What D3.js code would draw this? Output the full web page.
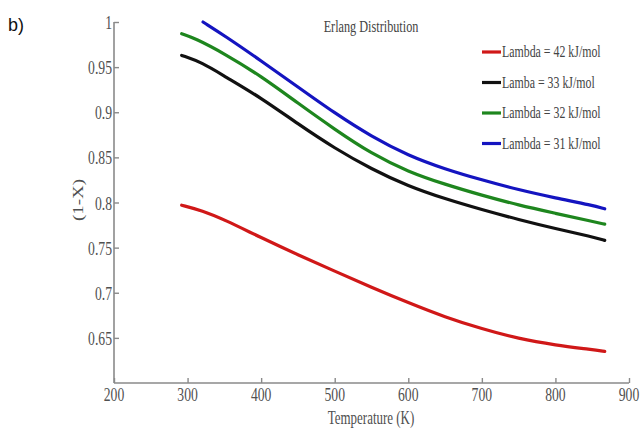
<!DOCTYPE html>
<html><head><meta charset="utf-8">
<script src="https://cdn.jsdelivr.net/npm/d3@7"></script>
<style>body{margin:0;background:#fff}svg{display:block}
.sf{font-family:"Liberation Serif","Times New Roman","DejaVu Serif",serif}</style>
</head><body>
<svg id="c" width="641" height="429"></svg>
<script>
const xTicks = [200,300,400,500,600,700,800,900];
const yTicks = [0.65,0.7,0.75,0.8,0.85,0.9,0.95,1];
const seriesNames = ["Lambda = 42 kJ/mol","Lamba = 33 kJ/mol","Lambda = 32 kJ/mol","Lambda = 31 kJ/mol"];
const seriesColors = ["#d01818","#111111","#1e861e","#1414c0"];
const redT   = [292,320,350,400,450,500,550,600,650,700,750,800,850,867];
const redV   = [0.797,0.791,0.781,0.761,0.742,0.724,0.706,0.689,0.673,0.660,0.649,0.642,0.637,0.635];
const blackT = [292,320,350,400,450,500,550,600,650,700,750,800,850,867];
const blackV = [0.963,0.955,0.940,0.916,0.887,0.860,0.837,0.818,0.804,0.792,0.781,0.771,0.762,0.758];
const greenT = [292,310,350,400,450,500,550,600,650,700,750,800,850,867];
const greenV = [0.987,0.982,0.965,0.940,0.910,0.881,0.854,0.834,0.820,0.808,0.797,0.788,0.779,0.776];
const blueT  = [321,350,400,450,500,550,600,650,700,750,800,850,867];
const blueV  = [1.0,0.985,0.957,0.928,0.899,0.873,0.852,0.837,0.825,0.814,0.805,0.797,0.793];

const series = [
  {T: redT, V: redV}, {T: blackT, V: blackV}, {T: greenT, V: greenV}, {T: blueT, V: blueV}
];

const svg = d3.select("#c");
const x = d3.scaleLinear().domain([200,900]).range([114,629]);
const y = d3.scaleLinear().domain([0.6,1]).range([383,22]);
const SX = 0.72;
const axisCol = "#8a8a8a", txtCol = "#505050";

// axes
const gx = svg.append("g").attr("transform","translate(0,383)")
  .call(d3.axisBottom(x).tickValues(xTicks).tickSize(-5).tickFormat(""));
const gy = svg.append("g").attr("transform","translate(114,0)")
  .call(d3.axisLeft(y).tickValues(yTicks).tickSize(-5).tickFormat(""));
[gx,gy].forEach(g=>{
  g.select(".domain").attr("stroke",axisCol).attr("stroke-width",1.6);
  g.selectAll(".tick line").attr("stroke",axisCol).attr("stroke-width",1.4);
});
gy.select(".domain").attr("d","M0,383V22");
gx.select(".domain").attr("d","M114,0H629");

function stxt(px,py,str,size,anchor,col){
  return svg.append("text").attr("class","sf")
    .attr("transform",`translate(${px},${py}) scale(${SX},1)`)
    .attr("text-anchor",anchor)
    .attr("font-size",size).attr("fill",col||txtCol).text(str);
}
xTicks.forEach(t=>stxt(x(t),401,String(t),19,"middle"));
yTicks.forEach(t=>stxt(112,y(t)+7,String(t),19,"end"));

stxt(371,32,"Erlang Distribution",17,"middle","#444");
stxt(371,424,"Temperature (K)",18,"middle");
svg.append("text").attr("class","sf")
  .attr("transform",`translate(78,200) scale(${SX},1) rotate(-90)`)
  .attr("text-anchor","middle").attr("font-size",19)
  .attr("dy","0.35em").attr("fill",txtCol).text("(1-X)");
svg.append("text").attr("x",8).attr("y",31)
  .attr("font-family","'Liberation Sans',Arial,sans-serif").attr("font-size",18)
  .attr("fill","#111").text("b)");

// lines
const line = d3.line().x(d=>x(d[0])).y(d=>y(d[1])).curve(d3.curveBasis);
series.forEach((s,i)=>{
  svg.append("path").datum(s.T.map((t,j)=>[t,s.V[j]]))
    .attr("d",line).attr("fill","none").attr("stroke",seriesColors[i])
    .attr("stroke-width",3.2).attr("stroke-linecap","round");
});

// legend
seriesNames.forEach((n,i)=>{
  const ly = 52 + i*30.5;
  svg.append("line").attr("x1",482).attr("x2",501).attr("y1",ly).attr("y2",ly)
    .attr("stroke",seriesColors[i]).attr("stroke-width",3.2);
  stxt(502,ly+5,n,16.5,"start","#444");
});
</script>
</body></html>
